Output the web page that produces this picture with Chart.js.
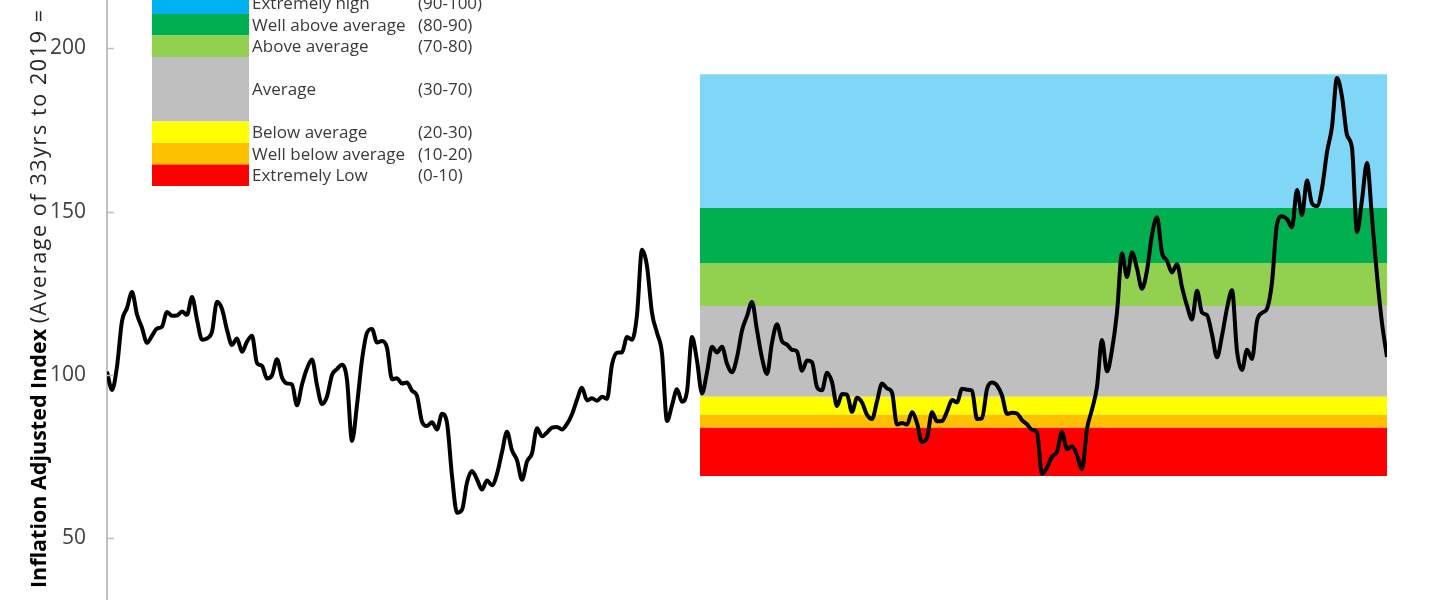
<!DOCTYPE html>
<html>
<head>
<meta charset="utf-8">
<script src="https://cdn.jsdelivr.net/npm/chart.js@4.4.1/dist/chart.umd.min.js"></script>
<style>
  html, body { margin: 0; padding: 0; background: #fff; }
  canvas { display: block; }
</style>
</head>
<body>
<canvas id="myChart" width="1440" height="600"></canvas>
<script>
// index values (even steps, left to right)
const lineValues = [
  101.0, 95.4, 102.6, 116.5, 120.5, 125.4, 118.5, 114.4, 109.8, 112.0,
  114.2, 114.8, 119.3, 118.1, 118.2, 119.4, 118.4, 123.9, 116.9, 110.8,
  111.2, 113.2, 122.4, 120.2, 113.8, 109.2, 111.2, 107.1, 110.2, 112.0,
  103.6, 102.8, 98.9, 99.9, 104.8, 99.2, 97.4, 97.1, 90.7, 97.1,
  102.0, 104.7, 96.9, 91.1, 93.4, 100.0, 101.8, 103.1, 98.5, 79.8,
  90.8, 104.6, 112.9, 114.1, 109.9, 110.4, 108.3, 98.7, 99.0, 97.4,
  97.7, 95.2, 93.6, 85.7, 84.4, 85.5, 83.3, 88.1, 85.3, 69.1,
  57.8, 58.7, 67.1, 70.6, 68.0, 64.9, 67.7, 66.2, 69.7, 76.4,
  82.6, 76.9, 73.9, 67.9, 73.5, 76.0, 83.7, 81.2, 82.4, 83.9,
  84.1, 83.3, 85.0, 88.0, 92.4, 96.1, 92.2, 92.9, 92.1, 93.3,
  92.7, 103.2, 106.8, 106.9, 111.6, 110.8, 118.4, 138.3, 133.3, 119.0,
  112.9, 106.6, 85.9, 90.7, 95.6, 91.8, 95.0, 111.6, 104.4, 94.3,
  100.8, 108.6, 106.9, 108.6, 103.4, 100.8, 105.4, 113.6, 118.0, 122.3,
  113.7, 105.2, 100.3, 109.9, 115.5, 110.3, 109.3, 107.7, 107.2, 101.3,
  104.4, 103.9, 96.3, 95.3, 100.7, 97.8, 90.5, 94.2, 94.0, 88.7,
  93.0, 91.6, 87.8, 86.5, 91.9, 97.4, 95.9, 94.6, 84.8, 85.3,
  84.8, 88.6, 85.3, 79.5, 80.7, 88.6, 85.8, 85.9, 88.8, 92.3,
  91.6, 95.8, 95.5, 95.2, 86.5, 86.7, 95.7, 97.7, 96.8, 93.7,
  88.1, 88.4, 88.2, 86.2, 84.9, 83.2, 82.4, 69.7, 71.6, 75.1,
  76.4, 82.5, 77.3, 78.2, 75.5, 71.2, 83.5, 89.4, 96.4, 110.7,
  101.1, 107.7, 119.1, 137.2, 130.0, 137.5, 132.6, 126.4, 132.0, 142.9,
  148.3, 137.4, 135.0, 131.4, 133.9, 126.9, 121.2, 117.0, 125.8, 119.1,
  118.3, 112.4, 105.4, 112.0, 120.4, 125.9, 107.3, 101.5, 107.7, 104.9,
  116.5, 119.0, 120.3, 128.4, 146.2, 148.6, 147.7, 145.2, 156.6, 149.0,
  159.5, 152.5, 151.7, 157.1, 168.2, 176.0, 190.9, 185.2, 173.5, 169.5,
  143.8, 153.6, 164.9, 148.1, 130.5, 115.9, 105.5
];

// percentile bands (bottom to top) and the stretch of the series they cover
const bandBounds = [69.1, 83.8, 87.8, 93.3, 121.1, 134.3, 151.1, 192.1];
const bandColors = ["#FF0000", "#FFC000", "#FFFF00", "#BFBFBF", "#92D050", "#00B050", "#80D6F7"];
const bandFrom = 118.6;
const bandTo = lineValues.length - 1;

const legendLabels = ["Extremely high", "Well above average", "Above average", "Average", "Below average", "Well below average", "Extremely Low"];
const legendRanges = ["(90-100)", "(80-90)", "(70-80)", "(30-70)", "(20-30)", "(10-20)", "(0-10)"];
const legendColors = ["#00B0F0", "#00B050", "#92D050", "#BFBFBF", "#FFFF00", "#FFC000", "#FF0000"];

const yTicks = [50, 100, 150, 200];
const titleBold = "Inflation Adjusted Index";
const titleRest = "(Average of 33yrs to 2019 = 100)";

const FONT = '"Open Sans", "DejaVu Sans", sans-serif';

// main series first so it is drawn on top of the bands
const datasets = [{
  data: lineValues.map((v, i) => ({ x: i, y: v })),
  borderColor: "#000",
  borderWidth: 4,
  pointRadius: 0,
  cubicInterpolationMode: "monotone",
  fill: false
}];

bandBounds.forEach((b, i) => {
  datasets.push({
    data: [{ x: bandFrom, y: b }, { x: bandTo, y: b }],
    borderWidth: 0,
    pointRadius: 0,
    backgroundColor: i === 0 ? "transparent" : bandColors[i - 1],
    fill: i === 0 ? false : "-1"
  });
});

const extrasPlugin = {
  id: "extras",
  afterDraw(chart) {
    const ctx = chart.ctx;
    const area = chart.chartArea;
    const yScale = chart.scales.y;
    ctx.save();

    // small tick marks inside the axis
    ctx.strokeStyle = "#BFBFBF";
    ctx.lineWidth = 1.5;
    yTicks.forEach(v => {
      const py = Math.round(yScale.getPixelForValue(v)) + 0.5;
      ctx.beginPath();
      ctx.moveTo(area.left, py);
      ctx.lineTo(area.left + 7, py);
      ctx.stroke();
    });

    // legend table
    let top = -7.5;
    ctx.font = "17px " + FONT;
    ctx.textBaseline = "middle";
    legendLabels.forEach((label, i) => {
      const h = label === "Average" ? 64.5 : 21.5;
      ctx.fillStyle = legendColors[i];
      ctx.fillRect(152, top, 97, h);
      ctx.fillStyle = "#3a3a3a";
      ctx.fillText(label, 252, top + h / 2 + 1);
      ctx.fillText(legendRanges[i], 418, top + h / 2 + 1);
      top += h;
    });

    // y axis title, bold part then regular part
    ctx.translate(46, 588);
    ctx.rotate(-Math.PI / 2);
    ctx.textBaseline = "alphabetic";
    ctx.fillStyle = "#000";
    ctx.font = "bold 21.5px " + FONT;
    ctx.fillText(titleBold, 0, 0);
    const w = ctx.measureText(titleBold + " ").width;
    ctx.fillStyle = "#262626";
    ctx.font = "21.5px " + FONT;
    ctx.letterSpacing = "1.6px";
    ctx.fillText(titleRest, w, 0);

    ctx.restore();
  }
};

const myChart = new Chart("myChart", {
  type: "line",
  data: { datasets: datasets },
  options: {
    responsive: false,
    animation: false,
    layout: { padding: { left: 0, right: 53, top: 0, bottom: 0 } },
    plugins: {
      legend: { display: false },
      tooltip: { enabled: false }
    },
    scales: {
      x: {
        type: "linear",
        display: false,
        min: 0,
        max: lineValues.length - 1
      },
      y: {
        min: 31.1,
        max: 214.8,
        grid: { display: false, drawTicks: false },
        border: { display: true, color: "#BFBFBF", width: 2 },
        ticks: {
          color: "#404040",
          font: { family: FONT, size: 21 },
          padding: 21
        },
        afterBuildTicks: s => { s.ticks = yTicks.map(v => ({ value: v })); },
        afterFit: s => {
          s.width = 107;
          s.paddingTop = 0;
          s.paddingBottom = 0;
        }
      }
    }
  },
  plugins: [extrasPlugin]
});
</script>
</body>
</html>
